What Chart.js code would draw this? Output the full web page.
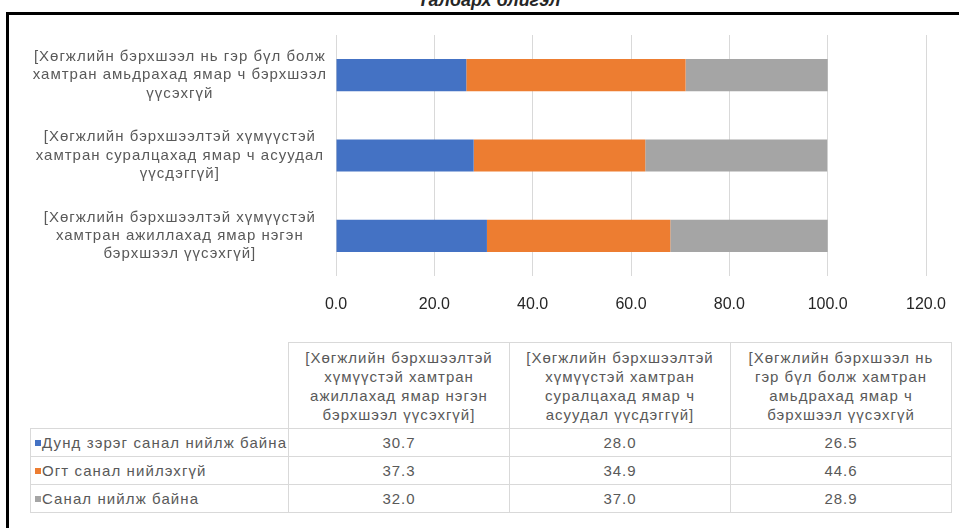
<!DOCTYPE html>
<html>
<head>
<meta charset="utf-8">
<script src="https://cdn.jsdelivr.net/npm/chart.js@4/dist/chart.umd.min.js"></script>
<style>
  html, body { margin: 0; padding: 0; background: #fff; }
  body { width: 959px; height: 528px; position: relative; overflow: hidden; font-family: "Liberation Sans", Arial, sans-serif; }
  #title { position: absolute; top: -10px; left: 0; width: 978px; text-align: center; font: italic bold 18px "Liberation Sans", Arial, sans-serif; color: #262626; white-space: nowrap; }
  #bl { position: absolute; left: 6px; top: 12px; width: 3px; height: 520px; background: #000; z-index: 5; }
  #bt { position: absolute; left: 6px; top: 12px; width: 960px; height: 3px; background: #000; z-index: 5; }
  #wrap { position: absolute; left: 0; top: 0; width: 959px; height: 314px; }
  #tbl { position: absolute; left: 30px; top: 342px; border-collapse: collapse; table-layout: fixed;
         font: 15px "Liberation Sans", Arial, sans-serif; letter-spacing: 1px; color: #595959; }
  #tbl td, #tbl th { border: 1px solid #d9d9d9; padding: 0; font-weight: normal; }
  #tbl th { height: 85px; text-align: center; line-height: 19px; vertical-align: middle; }
  #tbl th.corner { border-top: none; border-left: none; }
  #tbl td { height: 27px; text-align: center; }
  #tbl td.lab { text-align: left; padding-left: 4px; white-space: nowrap; letter-spacing: 1.1px; }
  .sw { display: inline-block; width: 6px; height: 6px; margin-right: 1px; vertical-align: 2px; }
</style>
</head>
<body>
<div id="title">Талбарх блйгэл</div>
<div id="bl"></div>
<div id="bt"></div>
<div id="wrap"><canvas id="c"></canvas></div>
<table id="tbl"></table>
<script>
// ---- data ----
const categories = [
  "[Хөгжлийн бэрхшээлтэй хүмүүстэй хамтран ажиллахад ямар нэгэн бэрхшээл үүсэхгүй]",
  "[Хөгжлийн бэрхшээлтэй хүмүүстэй хамтран суралцахад ямар ч асуудал үүсдэггүй]",
  "[Хөгжлийн бэрхшээл нь гэр бүл болж хамтран амьдрахад ямар ч бэрхшээл үүсэхгүй"
];
const axisLabelLines = [
  ["[Хөгжлийн бэрхшээлтэй хүмүүстэй", "хамтран ажиллахад ямар нэгэн", "бэрхшээл үүсэхгүй]"],
  ["[Хөгжлийн бэрхшээлтэй хүмүүстэй", "хамтран суралцахад ямар ч асуудал", "үүсдэггүй]"],
  ["[Хөгжлийн бэрхшээл нь гэр бүл болж", "хамтран амьдрахад ямар ч бэрхшээл", "үүсэхгүй"]
];
const tableHeaderLines = [
  ["[Хөгжлийн бэрхшээлтэй", "хүмүүстэй хамтран", "ажиллахад ямар нэгэн", "бэрхшээл үүсэхгүй]"],
  ["[Хөгжлийн бэрхшээлтэй", "хүмүүстэй хамтран", "суралцахад ямар ч", "асуудал үүсдэггүй]"],
  ["[Хөгжлийн бэрхшээл нь", "гэр бүл болж хамтран", "амьдрахад ямар ч", "бэрхшээл үүсэхгүй"]
];
const seriesNames = ["Дунд зэрэг санал нийлж байна", "Огт санал нийлэхгүй", "Санал нийлж байна"];
const moderate = [30.7, 28.0, 26.5];
const disagree = [37.3, 34.9, 44.6];
const agree    = [32.0, 37.0, 28.9];
const xTicks = [0, 20, 40, 60, 80, 100, 120];
const seriesColors = ["#4472C4", "#ED7D31", "#A5A5A5"];

const seriesValues = [moderate, disagree, agree];

// ---- table ----
const tbl = document.getElementById('tbl');
let html = '<colgroup><col style="width:258px"><col style="width:221px"><col style="width:221px"><col style="width:221px"></colgroup>';
html += '<tr><th class="corner"></th>' + tableHeaderLines.map(l => '<th>' + l.join('<br>') + '</th>').join('') + '</tr>';
seriesNames.forEach((n, i) => {
  html += '<tr><td class="lab"><span class="sw" style="background:' + seriesColors[i] + '"></span>' + n + '</td>' +
    seriesValues[i].map(v => '<td>' + v.toFixed(1) + '</td>').join('') + '</tr>';
});
tbl.innerHTML = html;

// ---- chart ----
const spacingPlugin = {
  id: 'spacing',
  beforeUpdate(chart) { chart.ctx.letterSpacing = '1px'; },
  beforeLayout(chart) { chart.ctx.letterSpacing = '1px'; },
  beforeDraw(chart) {
    chart.ctx.letterSpacing = '1px';
    const xs = chart.scales.x;
    if (xs && !xs._noSpacingPatched) {
      const orig = xs.drawLabels;
      xs.drawLabels = function (area) {
        const ctx = this.ctx;
        const prev = ctx.letterSpacing;
        ctx.letterSpacing = '0px';
        orig.call(this, area);
        ctx.letterSpacing = prev;
      };
      xs._noSpacingPatched = true;
    }
  }
};

new Chart(document.getElementById('c'), {
  type: 'bar',
  data: {
    labels: axisLabelLines,
    datasets: seriesNames.map((n, i) => ({
      label: n,
      data: seriesValues[i],
      backgroundColor: seriesColors[i],
      borderWidth: 0,
      categoryPercentage: 1.0,
      barPercentage: 0.4
    }))
  },
  options: {
    indexAxis: 'y',
    responsive: true,
    maintainAspectRatio: false,
    animation: false,
    layout: { padding: { top: 35, right: 33, bottom: 0, left: 0 } },
    plugins: { legend: { display: false }, title: { display: false }, tooltip: { enabled: false } },
    scales: {
      x: {
        stacked: true,
        min: 0, max: 120,
        afterBuildTicks(s) { s.ticks = xTicks.map(v => ({ value: v })); },
        grid: { color: '#d9d9d9', lineWidth: 1, drawTicks: false },
        border: { display: false },
        ticks: { padding: 19, color: '#262626', font: { family: 'Liberation Sans', size: 16 }, callback: v => Number(v).toFixed(1) },
        afterFit(s) { s.height = 38; s.paddingLeft = 0; s.paddingRight = 0; }
      },
      y: {
        stacked: true,
        reverse: true,
        grid: { display: false, drawTicks: false },
        border: { display: false },
        ticks: { crossAlign: 'center', padding: 9, color: '#595959', font: { family: 'Liberation Sans', size: 15, lineHeight: 1.23 } },
        afterFit(s) { s.width = 336; s.paddingTop = 0; s.paddingBottom = 0; }
      }
    }
  },
  plugins: [spacingPlugin]
});
</script>
</body>
</html>
